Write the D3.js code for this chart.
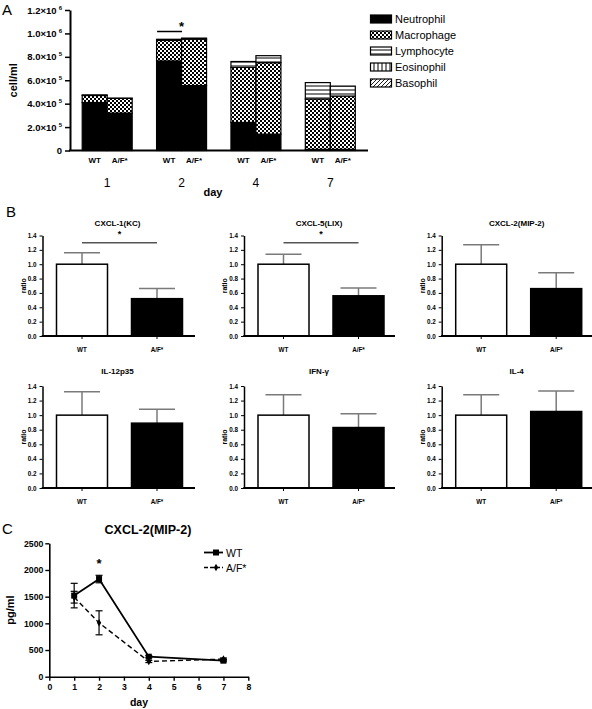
<!DOCTYPE html>
<html><head><meta charset="utf-8">
<script src="https://cdn.jsdelivr.net/npm/d3@7"></script>
<style>
body{margin:0;background:#fff}
svg{display:block}
text{font-family:Arial,"Liberation Sans",Helvetica,sans-serif;fill:#000}
</style>
</head><body>
<svg id="chart" width="592" height="709"></svg>
<script>
// ---------------- Panel A data ----------------
const days = ["1","2","4","7"];
const genotypes = ["WT","A/F*"];
const cellTypes = ["Neutrophil","Macrophage","Lymphocyte","Eosinophil","Basophil"];
// values per day, [WT, A/F*], cells/ml
const neutrophil = [[410000,320000],[765000,555000],[240000,140000],[10000,10000]];
const macrophage = [[60000,125000],[175000,395000],[470000,610000],[430000,455000]];
const lymphocyte = [[5000,2000],[10000,10000],[50000,60000],[140000,85000]];
const eosinophil = [[0,0],[0,0],[0,0],[0,0]];
const basophil   = [[0,0],[0,0],[0,0],[0,0]];
const yTicksA = [0,200000,400000,600000,800000,1000000,1200000];
const yTickMantissaA = ["0","2.0×10","4.0×10","6.0×10","8.0×10","1.0×10","1.2×10"];
const yTickExponentA = ["","5","5","5","5","6","6"];

// ---------------- Panel B data ----------------
const cytokines = ["CXCL-1(KC)","CXCL-5(LIX)","CXCL-2(MIP-2)","IL-12p35","IFN-γ","IL-4"];
const groupsB = ["WT","A/F*"];
const ratioWT = [1.0,1.0,1.0,1.0,1.0,1.0];
const ratioAF = [0.52,0.56,0.66,0.89,0.83,1.05];
const errWT = [0.16,0.14,0.27,0.32,0.28,0.28];
const errAF = [0.14,0.11,0.22,0.19,0.19,0.28];
const significantB = [true,true,false,false,false,false];
const yTicksB = [0,0.2,0.4,0.6,0.8,1.0,1.2,1.4];

// ---------------- Panel C data ----------------
const daysC = [1,2,4,7];
const mipWT = [1520,1830,375,300];
const mipWTerr = [230,70,20,20];
const mipAF = [1490,1010,285,330];
const mipAFerr = [110,225,20,20];
const xTicksC = [0,1,2,3,4,5,6,7,8];
const yTicksC = [0,500,1000,1500,2000,2500];

const svg = d3.select("#chart");
const defs = svg.append("defs");

// patterns
const pCheck = defs.append("pattern").attr("id","pat-mac").attr("patternUnits","userSpaceOnUse").attr("width",4).attr("height",4);
pCheck.append("rect").attr("width",4).attr("height",4).attr("fill","#fff");
pCheck.append("rect").attr("width",2).attr("height",2).attr("fill","#000");
pCheck.append("rect").attr("x",2).attr("y",2).attr("width",2).attr("height",2).attr("fill","#000");
const pH = defs.append("pattern").attr("id","pat-lym").attr("patternUnits","userSpaceOnUse").attr("width",4).attr("height",4);
pH.append("rect").attr("width",4).attr("height",4).attr("fill","#fff");
pH.append("rect").attr("y",1.5).attr("width",4).attr("height",1).attr("fill","#000");
const pV = defs.append("pattern").attr("id","pat-eos").attr("patternUnits","userSpaceOnUse").attr("width",4).attr("height",4);
pV.append("rect").attr("width",4).attr("height",4).attr("fill","#fff");
pV.append("rect").attr("x",1.5).attr("width",1).attr("height",4).attr("fill","#000");
const pD = defs.append("pattern").attr("id","pat-bas").attr("patternUnits","userSpaceOnUse").attr("width",4).attr("height",4);
pD.append("rect").attr("width",4).attr("height",4).attr("fill","#fff");
pD.append("path").attr("d","M-1,5 L5,-1 M-1,1 L1,-1 M3,5 L5,3").attr("stroke","#000").attr("stroke-width",0.9);
const fills = {Neutrophil:"#000",Macrophage:"url(#pat-mac)",Lymphocyte:"url(#pat-lym)",Eosinophil:"url(#pat-eos)",Basophil:"url(#pat-bas)"};

// ================= PANEL A =================
const gA = svg.append("g");
const yA = d3.scaleLinear().domain([0,1200000]).range([150.5,10]);
const xA = d3.scaleBand().domain(days).range([70,367.5]).paddingInner(0.328).paddingOuter(0.164);
const xG = d3.scaleBand().domain(genotypes).range([0,xA.bandwidth()]);
const seriesArrays = {Neutrophil:neutrophil,Macrophage:macrophage,Lymphocyte:lymphocyte,Eosinophil:eosinophil,Basophil:basophil};
const rowsA = [];
days.forEach((d,i)=>genotypes.forEach((g,j)=>{
  const r = {day:d,geno:g};
  cellTypes.forEach(c=>r[c]=seriesArrays[c][i][j]);
  rowsA.push(r);
}));
const stackA = d3.stack().keys(cellTypes)(rowsA);
stackA.forEach(s=>{
  gA.append("g").selectAll("rect").data(s.filter(d=>d[1]-d[0]>0)).join("rect")
    .attr("x",d=>xA(d.data.day)+xG(d.data.geno))
    .attr("width",xG.bandwidth())
    .attr("y",d=>yA(d[1]))
    .attr("height",d=>yA(d[0])-yA(d[1]))
    .attr("fill",fills[s.key])
    .attr("stroke","#000").attr("stroke-width",1.2);
});
// axes
const axA = gA.append("g").attr("transform","translate(70,0)")
  .call(d3.axisLeft(yA).tickValues(yTicksA).tickFormat("").tickSize(5).tickSizeOuter(0));
axA.select(".domain").attr("stroke-width",2);
axA.selectAll(".tick line").attr("stroke-width",1.5);
yTicksA.forEach((v,i)=>{
  const t = gA.append("text").attr("x",62).attr("y",yA(v)+3.5).attr("text-anchor","end")
    .attr("font-size",9.5).attr("font-weight","bold");
  t.append("tspan").text(yTickMantissaA[i]);
  if (yTickExponentA[i]) t.append("tspan").attr("dx",2).attr("dy",-4).attr("font-size",6).text(yTickExponentA[i]);
});
gA.append("line").attr("x1",69).attr("x2",368).attr("y1",yA(0)).attr("y2",yA(0)).attr("stroke","#000").attr("stroke-width",2);
days.forEach(d=>{
  genotypes.forEach(g=>{
    gA.append("text").attr("x",xA(d)+xG(g)+xG.bandwidth()/2).attr("y",163).attr("text-anchor","middle")
      .attr("font-size",8).attr("font-weight","bold").text(g);
  });
  gA.append("text").attr("x",xA(d)+xA.bandwidth()/2).attr("y",187).attr("text-anchor","middle")
    .attr("font-size",12).text(d);
});
gA.append("text").attr("x",213).attr("y",196).attr("text-anchor","middle").attr("font-size",11).attr("font-weight","bold").text("day");
gA.append("text").attr("transform",`translate(17,${yA(600000)}) rotate(-90)`).attr("text-anchor","middle")
  .attr("font-size",11).attr("font-weight","bold").text("cell/ml");
gA.append("text").attr("x",2).attr("y",15).attr("font-size",15).text("A");
// significance day 2
const d2 = xA("2");
gA.append("line").attr("x1",d2+xG.bandwidth()/2-12).attr("x2",d2+xG.bandwidth()*1.5-12).attr("y1",31.5).attr("y2",31.5).attr("stroke","#000").attr("stroke-width",1.5);
gA.append("text").attr("x",d2+xG.bandwidth()-0).attr("y",31).attr("text-anchor","middle").attr("font-size",13).attr("font-weight","bold").text("*");
// legend
cellTypes.forEach((c,i)=>{
  const cy = 19 + i*16;
  gA.append("rect").attr("x",370.5).attr("y",cy-4).attr("width",21).attr("height",8).attr("fill",fills[c]).attr("stroke","#000").attr("stroke-width",1.2);
  gA.append("text").attr("x",395).attr("y",cy+4).attr("font-size",11).text(c);
});

// ================= PANEL B =================
const gB = svg.append("g");
gB.append("text").attr("x",6).attr("y",217).attr("font-size",15).text("B");
const colAxisX = [42.5,244,441.7];
const colEndX = [195,395,592];
const rowZeroY = [336,488];
const rowTopY = [235.5,386];
const rowTitleY = [226,374];
const rowLabelY = [352,504];
cytokines.forEach((name,i)=>{
  const r = Math.floor(i/3), c = i%3;
  const ax = colAxisX[c];
  const y = d3.scaleLinear().domain([0,1.4]).range([rowZeroY[r],rowTopY[r]]);
  const x = d3.scaleBand().domain(groupsB).range([ax+2,ax+152]).paddingInner(0.32).paddingOuter(0.16);
  const g = gB.append("g");
  const vals = [ratioWT[i],ratioAF[i]];
  const errs = [errWT[i],errAF[i]];
  // error bars (upper)
  groupsB.forEach((k,j)=>{
    const cx = x(k)+x.bandwidth()/2;
    g.append("line").attr("x1",cx).attr("x2",cx).attr("y1",y(vals[j])).attr("y2",y(vals[j]+errs[j])).attr("stroke","#7a7a7a").attr("stroke-width",1.5);
    g.append("line").attr("x1",cx-18).attr("x2",cx+18).attr("y1",y(vals[j]+errs[j])).attr("y2",y(vals[j]+errs[j])).attr("stroke","#7a7a7a").attr("stroke-width",1.5);
  });
  g.selectAll("rect.bar").data(groupsB).join("rect").attr("class","bar")
    .attr("x",k=>x(k)).attr("width",x.bandwidth())
    .attr("y",(k,j)=>y(vals[j])).attr("height",(k,j)=>y(0)-y(vals[j]))
    .attr("fill",(k,j)=>j===0?"#fff":"#000").attr("stroke","#000").attr("stroke-width",1.5);
  const ya = g.append("g").attr("transform",`translate(${ax},0)`)
    .call(d3.axisLeft(y).tickValues(yTicksB).tickFormat(d3.format(".1f")).tickSize(3).tickSizeOuter(0));
  ya.select(".domain").attr("stroke-width",1.5);
  ya.selectAll("text").attr("font-size",6.3).attr("font-weight","bold").attr("font-family","Arial,'Liberation Sans',sans-serif");
  const xa = g.append("g").attr("transform",`translate(0,${y(0)})`)
    .call(d3.axisBottom(x).tickSize(3).tickSizeOuter(0));
  xa.select(".domain").remove();
  xa.selectAll("text").remove();
  g.append("line").attr("x1",ax-0.75).attr("x2",colEndX[c]).attr("y1",y(0)).attr("y2",y(0)).attr("stroke","#000").attr("stroke-width",1.8);
  groupsB.forEach(k=>{
    g.append("text").attr("x",x(k)+x.bandwidth()/2).attr("y",rowLabelY[r]).attr("text-anchor","middle")
      .attr("font-size",6.3).attr("font-weight","bold").text(k);
  });
  g.append("text").attr("x",ax+75).attr("y",rowTitleY[r]).attr("text-anchor","middle").attr("font-size",8).attr("font-weight","bold").text(name);
  g.append("text").attr("transform",`translate(${ax-17},${(y(0)+y(1.4))/2}) rotate(-90)`).attr("text-anchor","middle")
    .attr("font-size",7).attr("font-weight","bold").text("ratio");
  if (significantB[i]) {
    const x1 = x("WT")+x.bandwidth()/2, x2 = x("A/F*")+x.bandwidth()/2;
    g.append("line").attr("x1",x1).attr("x2",x2).attr("y1",y(1.3)).attr("y2",y(1.3)).attr("stroke","#555").attr("stroke-width",1.5);
    g.append("text").attr("x",(x1+x2)/2).attr("y",y(1.3)-6).attr("text-anchor","middle").attr("font-size",9).attr("font-weight","bold").text("*");
  }
});

// ================= PANEL C =================
const gC = svg.append("g");
gC.append("text").attr("x",2).attr("y",534).attr("font-size",15).text("C");
const xC = d3.scaleLinear().domain([0,8]).range([49.3,248.3]);
const yC = d3.scaleLinear().domain([0,2500]).range([676.7,543.3]);
const axCx = gC.append("g").attr("transform",`translate(0,${yC(0)})`)
  .call(d3.axisBottom(xC).tickValues(xTicksC).tickFormat(d3.format("d")).tickSize(4).tickSizeOuter(0));
const axCy = gC.append("g").attr("transform",`translate(${xC(0)},0)`)
  .call(d3.axisLeft(yC).tickValues(yTicksC).tickFormat(d3.format("d")).tickSize(4).tickSizeOuter(0));
[axCx,axCy].forEach(a=>{
  a.select(".domain").attr("stroke-width",1.6);
  a.selectAll(".tick line").attr("stroke-width",1.4);
  a.selectAll("text").attr("font-size",8.7).attr("font-weight","bold").attr("font-family","Arial,'Liberation Sans',sans-serif");
});
axCy.selectAll("text").attr("x",-6);
axCx.selectAll("text").attr("y",7);
gC.append("text").attr("x",148).attr("y",534).attr("text-anchor","middle").attr("font-size",12.5).attr("font-weight","bold").text("CXCL-2(MIP-2)");
gC.append("text").attr("x",139).attr("y",706).attr("text-anchor","middle").attr("font-size",10.5).attr("font-weight","bold").text("day");
gC.append("text").attr("transform",`translate(14,${yC(1250)}) rotate(-90)`).attr("text-anchor","middle")
  .attr("font-size",11).attr("font-weight","bold").text("pg/ml");
const lineC = d3.line().x((d,i)=>xC(daysC[i])).y(d=>yC(d));
function errBars(vals, errs){
  vals.forEach((v,i)=>{
    const cx = xC(daysC[i]);
    gC.append("line").attr("x1",cx).attr("x2",cx).attr("y1",yC(v-errs[i])).attr("y2",yC(v+errs[i])).attr("stroke","#000").attr("stroke-width",1.2);
    [v-errs[i],v+errs[i]].forEach(e=>gC.append("line").attr("x1",cx-3.5).attr("x2",cx+3.5).attr("y1",yC(e)).attr("y2",yC(e)).attr("stroke","#000").attr("stroke-width",1.2));
  });
}
errBars(mipAF, mipAFerr);
errBars(mipWT, mipWTerr);
gC.append("path").attr("d",lineC(mipAF)).attr("fill","none").attr("stroke","#000").attr("stroke-width",1.4).attr("stroke-dasharray","5,3");
gC.append("path").attr("d",lineC(mipWT)).attr("fill","none").attr("stroke","#000").attr("stroke-width",1.8);
const sq = d3.symbol().type(d3.symbolSquare).size(36);
const dm = d3.symbol().type(d3.symbolDiamond).size(16);
mipWT.forEach((v,i)=>gC.append("path").attr("d",sq()).attr("transform",`translate(${xC(daysC[i])},${yC(v)})`).attr("fill","#000"));
mipAF.forEach((v,i)=>gC.append("path").attr("d",dm()).attr("transform",`translate(${xC(daysC[i])},${yC(v)})`).attr("fill","#000"));
gC.append("text").attr("x",xC(2)).attr("y",568).attr("text-anchor","middle").attr("font-size",13).attr("font-weight","bold").text("*");
// legend C
gC.append("line").attr("x1",204).attr("x2",223).attr("y1",552.5).attr("y2",552.5).attr("stroke","#000").attr("stroke-width",1.8);
gC.append("path").attr("d",sq()).attr("transform","translate(216,552.5)").attr("fill","#000");
gC.append("text").attr("x",226).attr("y",556.5).attr("font-size",10.5).text("WT");
gC.append("line").attr("x1",204).attr("x2",223).attr("y1",567.5).attr("y2",567.5).attr("stroke","#000").attr("stroke-width",1.4).attr("stroke-dasharray","4,2");
gC.append("path").attr("d",dm()).attr("transform","translate(216,567.5)").attr("fill","#000");
gC.append("text").attr("x",226).attr("y",571.5).attr("font-size",10.5).text("A/F*");
</script>
</body></html>
